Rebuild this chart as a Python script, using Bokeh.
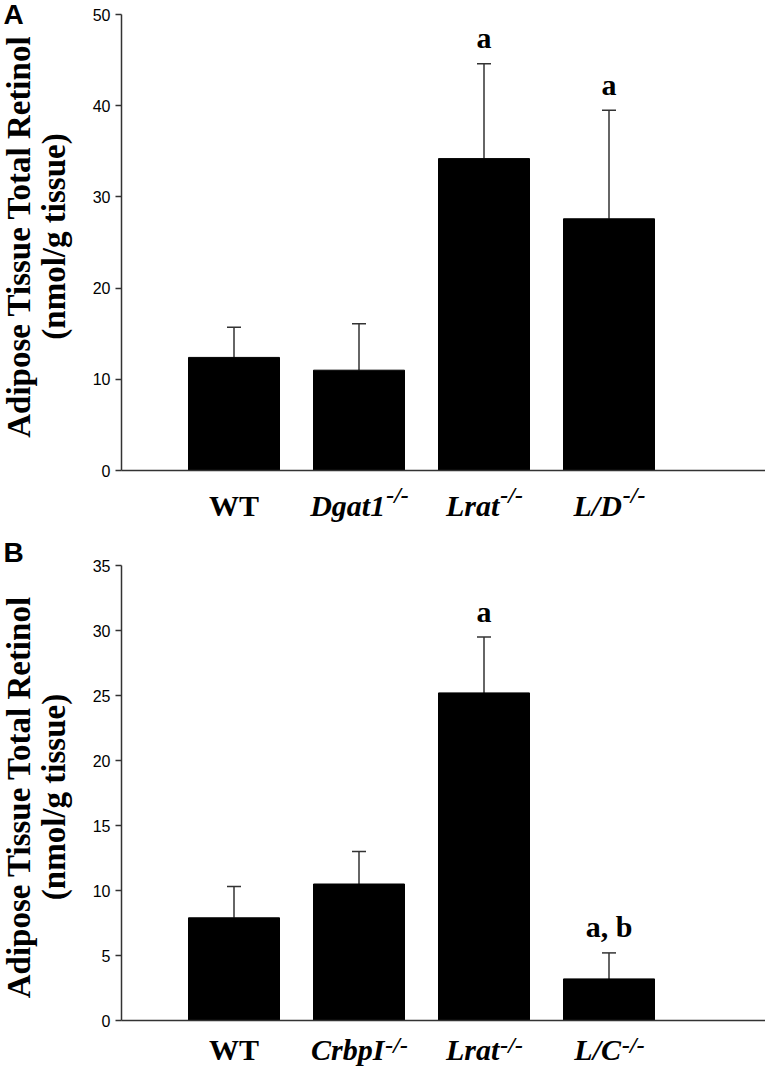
from math import pi
from bokeh.plotting import figure
from bokeh.models import ColumnDataSource, Whisker, TeeHead, Label, FixedTicker, Range1d
from bokeh.layouts import column, row
from bokeh.core.properties import value
from bokeh.embed import file_html
from bokeh.resources import INLINE

# ---------------- data ----------------
groups_a = ["WT", "Dgat1", "Lrat", "L/D"]
sup_a = ["", "-/-", "-/-", "-/-"]
mean_a = [12.4, 11.0, 34.2, 27.6]
err_a = [3.3, 5.1, 10.4, 11.9]
sig_a = ["", "", "a", "a"]
yticks_a = [0, 10, 20, 30, 40, 50]

groups_b = ["WT", "CrbpI", "Lrat", "L/C"]
sup_b = ["", "-/-", "-/-", "-/-"]
mean_b = [7.9, 10.5, 25.2, 3.2]
err_b = [2.4, 2.5, 4.3, 2.0]
sig_b = ["", "", "a", "a, b"]
yticks_b = [0, 5, 10, 15, 20, 25, 30, 35]

ytitle1 = "Adipose Tissue Total Retinol"
ytitle2 = "(nmol/g tissue)"
panel_letters = ["A", "B"]

# approximate Times bold / bold-italic advance widths (em) for centring label groups
EM_BI = {"D": .722, "g": .5, "a": .5, "t": .278, "1": .5, "L": .611, "r": .389, "/": .278,
         "C": .667, "b": .5, "p": .5, "I": .389, "-": .333}
EM_B = {"W": 1.0, "T": .667}

SERIF = "Liberation Serif"
SANS = "Liberation Sans"

# ---------------- layout constants (px) ----------------
LEFT_W = 80          # strip holding the y titles and panel letters
CHART_W = 685        # chart figures (frame from x=121 to x=765)
BORDER_L = 41
X0 = 0.1
X1 = X0 + (CHART_W - BORDER_L) / 125.0
LAB_PX = 30
SUP_PX = 24
SIG_PX = 30

A_TOP, A_FH, A_BOT = 14, 456, 10      # chart A: frame 14..470
STRIP_A_H = 75                        # 480..555
B_TOP, B_FH, B_BOT = 10, 455, 10      # chart B: 555..1030, frame 565..1020
STRIP_B_H = 37                        # 1030..1067
TOTAL_H = A_TOP + A_FH + A_BOT + STRIP_A_H + B_TOP + B_FH + B_BOT + STRIP_B_H

shared_x = Range1d(X0, X1)


def text_w(s, italic, px):
    tab = EM_BI if italic else EM_B
    return sum(tab.get(c, 0.5) for c in s) * px


def chart(means, errs, sigs, yticks, ymax, btop, fh, bbot):
    p = figure(width=CHART_W, height=btop + fh + bbot, output_backend="svg",
               toolbar_location=None, title=None, x_range=shared_x, y_range=Range1d(0, ymax),
               min_border_left=BORDER_L, min_border_right=0, min_border_top=btop,
               min_border_bottom=bbot)
    p.outline_line_color = None
    p.xgrid.visible = False
    p.ygrid.visible = False

    xs = list(range(1, len(means) + 1))
    src = ColumnDataSource(dict(x=xs, top=means, hi=[m + e for m, e in zip(means, errs)]))
    p.vbar(x="x", top="top", bottom=0, width=0.728, source=src,
           fill_color="black", line_color="black")
    p.add_layout(Whisker(source=src, base="x", lower="top", upper="hi",
                         line_color="#333333", line_width=1.5, lower_head=None,
                         upper_head=TeeHead(size=14, line_color="#333333", line_width=1.5)))

    ya = p.yaxis[0]
    ya.ticker = FixedTicker(ticks=yticks)
    ya.major_tick_out = 6
    ya.major_tick_in = 0
    ya.minor_tick_out = 0
    ya.minor_tick_in = 0
    ya.axis_line_width = 1.5
    ya.axis_line_color = "#333333"
    ya.major_tick_line_color = "#333333"
    ya.major_tick_line_width = 1.5
    ya.major_label_text_font = SANS
    ya.major_label_text_font_size = "16px"
    ya.major_label_text_color = "black"
    ya.major_label_standoff = 5

    xa = p.xaxis[0]
    xa.ticker = FixedTicker(ticks=[])
    xa.major_tick_out = 0
    xa.major_tick_in = 0
    xa.minor_tick_out = 0
    xa.minor_tick_in = 0
    xa.major_label_standoff = 0
    xa.axis_line_width = 1.5
    xa.axis_line_color = "#333333"

    for x, m, e, sg in zip(xs, means, errs, sigs):
        if sg:
            p.add_layout(Label(x=x, y=m + e, y_offset=26, text=sg, text_align="center",
                               text_baseline="middle", text_font=SERIF,
                               text_font_style="bold", text_font_size=f"{SIG_PX}px",
                               text_color="black"))
    return p


def label_strip(groups, sups, height, mid_main, mid_sup):
    s = figure(width=CHART_W, height=height, output_backend="svg", toolbar_location=None,
               title=None, x_range=shared_x, y_range=Range1d(-height, 0),
               min_border_left=BORDER_L, min_border_right=0, min_border_top=0,
               min_border_bottom=0, x_axis_location=None, y_axis_location=None)
    s.outline_line_color = None
    s.grid.visible = False
    for i, (g, sp) in enumerate(zip(groups, sups)):
        x = i + 1
        italic = bool(sp)
        mw = text_w(g, italic, LAB_PX)
        sw = text_w(sp, True, SUP_PX) if sp else 0
        off = (mw - sw) / 2.0
        s.text(x=[x], y=[-mid_main], text=[g], x_offset=off, text_align="right",
               text_baseline="middle", text_font=value(SERIF),
               text_font_style="bold italic" if italic else "bold",
               text_font_size=f"{LAB_PX}px", text_color="black")
        if sp:
            s.text(x=[x], y=[-mid_sup], text=[sp], x_offset=off + 1, text_align="left",
                   text_baseline="middle", text_font=value(SERIF),
                   text_font_style="bold italic", text_font_size=f"{SUP_PX}px",
                   text_color="black")
    return s


pa = chart(mean_a, err_a, sig_a, yticks_a, 50, A_TOP, A_FH, A_BOT)
sa = label_strip(groups_a, sup_a, STRIP_A_H, 25, 14)
pb = chart(mean_b, err_b, sig_b, yticks_b, 35, B_TOP, B_FH, B_BOT)
sb = label_strip(groups_b, sup_b, STRIP_B_H, 19, 14)

# left strip: y titles and panel letters (y = -pixels from top)
a_frame_top = A_TOP
b_frame_top = A_TOP + A_FH + A_BOT + STRIP_A_H + B_TOP
centres = [a_frame_top + A_FH / 2 - 6, b_frame_top + B_FH / 2 + 4]
letter_mids = [14, b_frame_top - 13]

left = figure(width=LEFT_W, height=TOTAL_H, output_backend="svg", toolbar_location=None,
              title=None, x_range=Range1d(0, LEFT_W), y_range=Range1d(-TOTAL_H, 0),
              min_border=0, x_axis_location=None, y_axis_location=None)
left.outline_line_color = None
left.grid.visible = False
left.text(x=[3, 3], y=[-t for t in letter_mids], text=panel_letters, text_align="left",
          text_baseline="middle", text_font=value(SANS), text_font_style="bold",
          text_font_size="28px", text_color="black")
left.text(x=[18, 18], y=[-c for c in centres], text=[ytitle1, ytitle1], angle=pi / 2,
          text_align="center", text_baseline="middle", text_font=value(SERIF),
          text_font_style="bold", text_font_size="33px", text_color="black")
left.text(x=[53, 53], y=[-c for c in centres], text=[ytitle2, ytitle2], angle=pi / 2,
          text_align="center", text_baseline="middle", text_font=value(SERIF),
          text_font_style="bold", text_font_size="33px", text_color="black")

layout = row(left, column(pa, sa, pb, sb, spacing=0), spacing=0)
open("out.html", "w").write(file_html(layout, INLINE))
